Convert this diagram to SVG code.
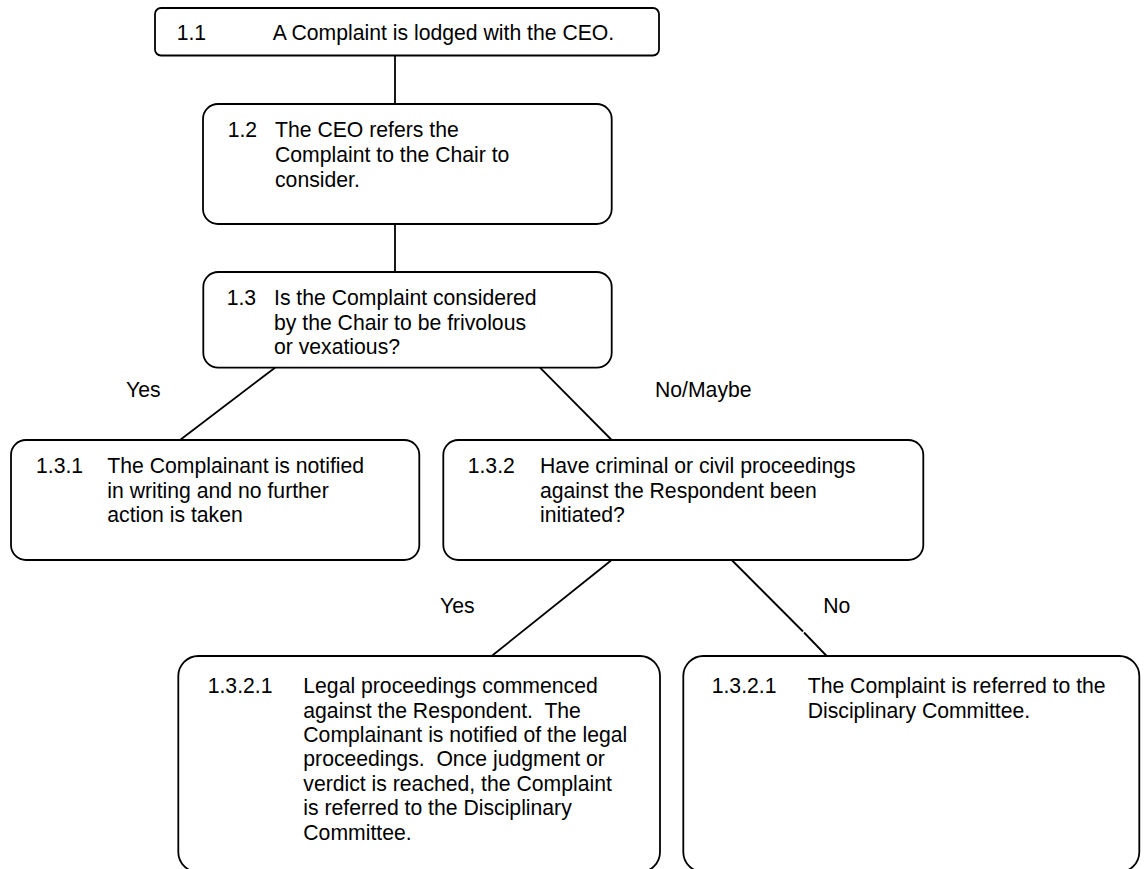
<svg xmlns="http://www.w3.org/2000/svg" width="1144" height="869" viewBox="0 0 1144 869">
<style>
  .box { fill: #ffffff; stroke: #000000; stroke-width: 1.8; }
  .conn { stroke: #000000; stroke-width: 1.8; fill: none; }
  text { font-family: "Liberation Sans", Arial, sans-serif; font-size: 21.2px; fill: #000000; white-space: pre; }
</style>
<rect width="1144" height="869" fill="#ffffff"/>
<g id="connectors">
  <line class="conn" x1="395" y1="55.5" x2="395" y2="104"/>
  <line class="conn" x1="395" y1="224" x2="395" y2="272"/>
  <line class="conn" x1="275" y1="367.7" x2="180" y2="440"/>
  <line class="conn" x1="540" y1="367.7" x2="611.7" y2="440"/>
  <line class="conn" x1="611.7" y1="560" x2="491.7" y2="656"/>
  <line class="conn" x1="731.7" y1="560" x2="803" y2="631.5"/>
  <line class="conn" x1="804" y1="632.5" x2="826.7" y2="656"/>
  <text x="126" y="396.7">Yes</text>
  <text x="655" y="396.7">No/Maybe</text>
  <text x="440" y="613.3">Yes</text>
  <text x="823.3" y="613.3">No</text>
</g>
<g id="node-1-1">
  <rect class="box" x="155" y="8" width="504" height="47.5" rx="6" ry="6"/>
  <text x="176.7" y="39.5">1.1</text>
  <text x="272.7" y="39.5">A Complaint is lodged with the CEO.</text>
</g>
<g id="node-1-2">
  <rect class="box" x="203" y="104" width="408.7" height="120" rx="15" ry="15"/>
  <text x="227.7" y="137.3">1.2</text>
  <text x="275" y="137.3">The CEO refers the</text>
  <text x="275" y="162">Complaint to the Chair to</text>
  <text x="275" y="186.7">consider.</text>
</g>
<g id="node-1-3">
  <rect class="box" x="203.3" y="272" width="408.4" height="95.7" rx="15" ry="15"/>
  <text x="226.7" y="305">1.3</text>
  <text x="274" y="305">Is the Complaint considered</text>
  <text x="274" y="330">by the Chair to be frivolous</text>
  <text x="274" y="354.3">or vexatious?</text>
</g>
<g id="node-1-3-1">
  <rect class="box" x="11" y="440" width="408.3" height="120" rx="15" ry="15"/>
  <text x="36" y="473.3">1.3.1</text>
  <text x="107.3" y="473.3">The Complainant is notified</text>
  <text x="107.3" y="497.7">in writing and no further</text>
  <text x="107.3" y="522.2">action is taken</text>
</g>
<g id="node-1-3-2">
  <rect class="box" x="443.3" y="440" width="480" height="120" rx="15" ry="15"/>
  <text x="467.7" y="473.3">1.3.2</text>
  <text x="540" y="473.3">Have criminal or civil proceedings</text>
  <text x="540" y="497.7">against the Respondent been</text>
  <text x="540" y="522.2">initiated?</text>
</g>
<g id="node-1-3-2-1-yes">
  <rect class="box" x="178.3" y="656" width="481.7" height="216" rx="20" ry="20"/>
  <text x="207.7" y="693.3">1.3.2.1</text>
  <text x="303.3" y="693.3">Legal proceedings commenced</text>
  <text x="303.3" y="717.6">against the Respondent.  The</text>
  <text x="303.3" y="742">Complainant is notified of the legal</text>
  <text x="303.3" y="766.4">proceedings.  Once judgment or</text>
  <text x="303.3" y="790.8">verdict is reached, the Complaint</text>
  <text x="303.3" y="815.2">is referred to the Disciplinary</text>
  <text x="303.3" y="839.6">Committee.</text>
</g>
<g id="node-1-3-2-1-no">
  <rect class="box" x="683.3" y="656" width="456" height="216" rx="20" ry="20"/>
  <text x="711.7" y="693.3">1.3.2.1</text>
  <text x="807.7" y="693.3">The Complaint is referred to the</text>
  <text x="807.7" y="717.6">Disciplinary Committee.</text>
</g>
</svg>
